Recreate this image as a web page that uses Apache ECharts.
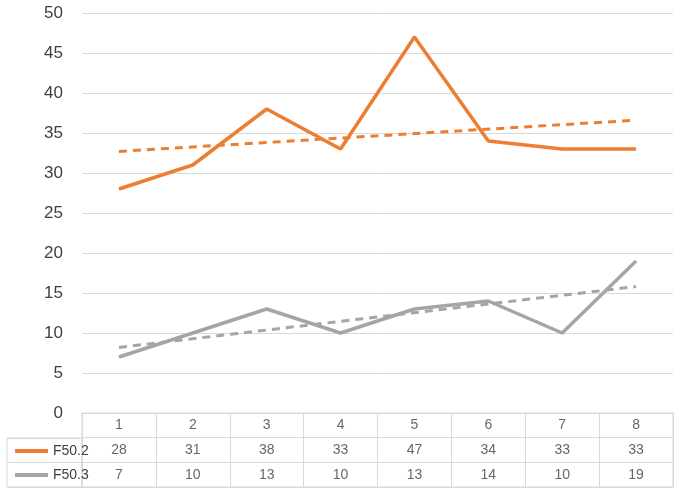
<!DOCTYPE html>
<html>
<head>
<meta charset="utf-8">
<script src="https://cdn.jsdelivr.net/npm/echarts@6/dist/echarts.min.js"></script>
<style>
  html, body { margin: 0; padding: 0; background: #fff; }
  #chart { width: 680px; height: 494px; }
</style>
</head>
<body>
<div id="chart"></div>
<script>
const categories = ['1', '2', '3', '4', '5', '6', '7', '8']
const seriesNames = ['F50.2', 'F50.3']
const f502 = [28, 31, 38, 33, 47, 34, 33, 33]
const f503 = [7, 10, 13, 10, 13, 14, 10, 19]
// trend line end points (x = 1 and x = 8)
const f502Trend = [32.7, 36.6]
const f503Trend = [8.2, 15.8]
const colors = ['#ED7D31', '#A5A5A5']
const gridColor = '#D9D9D9'
const textColor = '#404040'
const fontFamily = 'Liberation Sans, Arial, sans-serif'

const chart = echarts.init(document.getElementById('chart'))

// cells of the data table below the plot
const tableRows = ['head', seriesNames[0], seriesNames[1]]
const cells = []
categories.forEach((c, i) => {
  cells.push([i, 0, c])
  cells.push([i, 1, f502[i]])
  cells.push([i, 2, f503[i]])
})

const trendData = (pts) => [[0, pts[0]], [categories.length - 1, pts[1]]]

const option = {
  animation: false,
  textStyle: { fontFamily },
  grid: [
    { left: 82, right: 7, top: 13, bottom: 81 },
    { left: 82, right: 7, top: 413, height: 74, show: true, borderColor: gridColor, borderWidth: 1 },
    { left: 7, width: 75, top: 438, height: 49, show: true, borderColor: gridColor, borderWidth: 1 }
  ],
  legend: {
    data: seriesNames,
    orient: 'vertical',
    left: 10,
    top: 438,
    itemGap: 8,
    itemWidth: 33,
    itemHeight: 4,
    itemTextGap: 2,
    icon: 'rect',
    textStyle: { fontSize: 14, color: textColor, lineHeight: 16, fontFamily }
  },
  xAxis: [
    {
      type: 'category', gridIndex: 0, data: categories, boundaryGap: true,
      axisLine: { show: false }, axisTick: { show: false }, axisLabel: { show: false }
    },
    {
      type: 'category', gridIndex: 1, data: categories, boundaryGap: true,
      axisLine: { show: false }, axisTick: { show: false }, axisLabel: { show: false },
      splitLine: { show: true, lineStyle: { color: gridColor, width: 1 } }
    },
    {
      type: 'value', gridIndex: 2, show: false
    }
  ],
  yAxis: [
    {
      type: 'value', gridIndex: 0, min: 0, max: 50, interval: 5,
      axisLine: { show: false }, axisTick: { show: false },
      axisLabel: { fontSize: 17, color: textColor, margin: 19, fontFamily },
      splitLine: { lineStyle: { color: gridColor, width: 1 } }
    },
    {
      type: 'category', gridIndex: 1, data: tableRows, inverse: true, boundaryGap: true,
      axisLine: { show: false }, axisTick: { show: false }, axisLabel: { show: false },
      splitLine: { show: true, lineStyle: { color: gridColor, width: 1 } }
    },
    {
      type: 'category', gridIndex: 2, data: seriesNames, inverse: true, boundaryGap: true,
      axisLine: { show: false }, axisTick: { show: false }, axisLabel: { show: false },
      splitLine: { show: true, lineStyle: { color: gridColor, width: 1 } }
    }
  ],
  series: [
    {
      name: seriesNames[0], type: 'line', data: f502, xAxisIndex: 0, yAxisIndex: 0,
      symbol: 'none', color: colors[0], lineStyle: { width: 3.5, color: colors[0] }
    },
    {
      name: seriesNames[1], type: 'line', data: f503, xAxisIndex: 0, yAxisIndex: 0,
      symbol: 'none', color: colors[1], lineStyle: { width: 3.5, color: colors[1] }
    },
    {
      name: 'trend1', type: 'line', data: trendData(f502Trend), xAxisIndex: 0, yAxisIndex: 0,
      symbol: 'none', lineStyle: { width: 3, color: colors[0], type: [8, 6] }
    },
    {
      name: 'trend2', type: 'line', data: trendData(f503Trend), xAxisIndex: 0, yAxisIndex: 0,
      symbol: 'none', lineStyle: { width: 3, color: colors[1], type: [8, 6] }
    },
    {
      name: 'table', type: 'scatter', xAxisIndex: 1, yAxisIndex: 1,
      data: cells, symbolSize: 0, silent: true,
      label: {
        show: true, position: 'inside', formatter: (p) => p.data[2],
        fontSize: 14, color: textColor, fontFamily
      }
    }
  ]
}

chart.setOption(option)
</script>
</body>
</html>
